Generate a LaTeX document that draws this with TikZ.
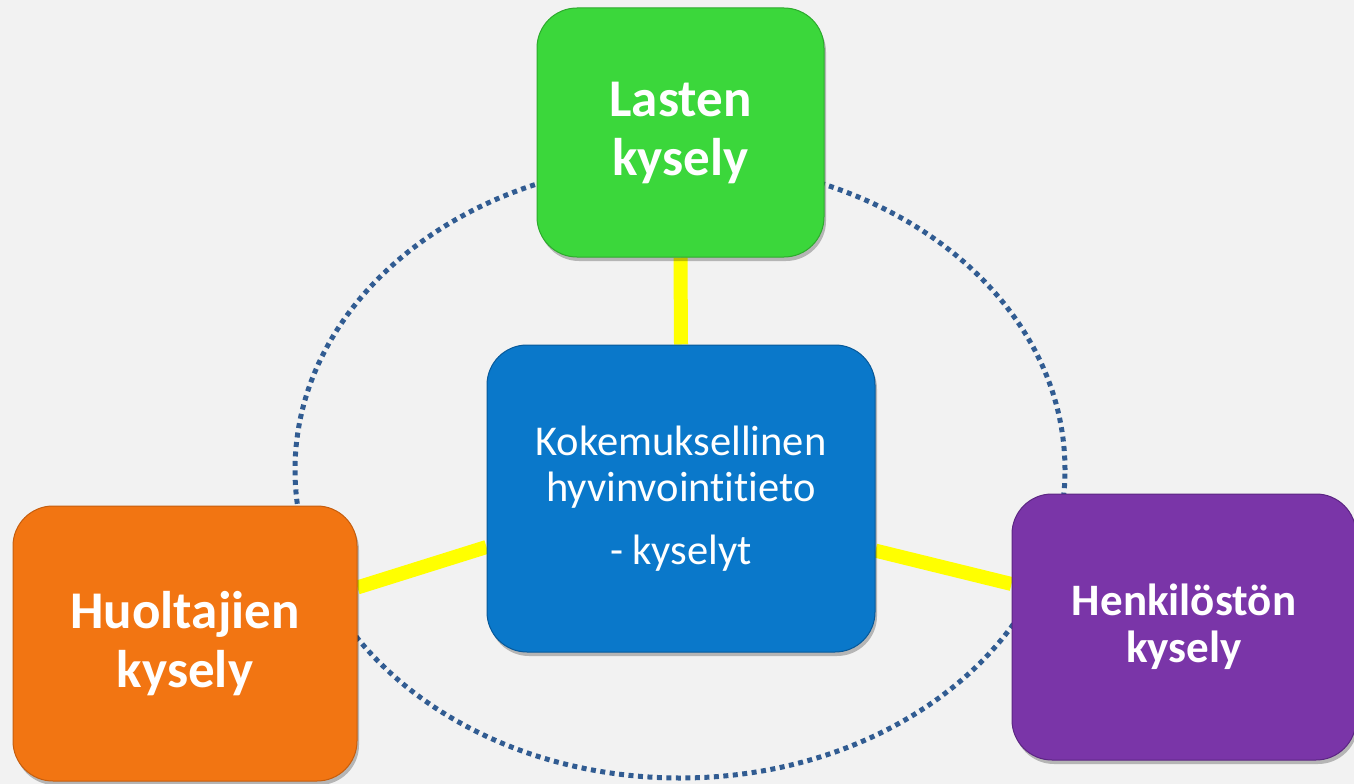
\documentclass[tikz,border=0pt]{standalone}
\usepackage{fontspec}
\setmainfont{Carlito}[Ligatures={NoCommon,NoContextual}]
\usetikzlibrary{shadows,backgrounds}
\definecolor{bgc}{HTML}{F2F2F2}
\definecolor{grn}{HTML}{3BD73B}
\definecolor{grnb}{HTML}{2DAA2D}
\definecolor{org}{HTML}{F27512}
\definecolor{orgb}{HTML}{C65E0E}
\definecolor{pur}{HTML}{7A35A8}
\definecolor{purb}{HTML}{5C2683}
\definecolor{blu}{HTML}{0A78CA}
\definecolor{blub}{HTML}{07599A}
\definecolor{dotc}{HTML}{315C92}
\definecolor{yel}{HTML}{FFFF00}
\tikzset{
  box/.style={rounded corners=40pt, inner sep=0pt, line width=1pt, align=center, text=white,
    drop shadow={shadow xshift=2pt, shadow yshift=-4pt, opacity=0.25, fill=black}},
  bigtxt/.style={font=\bfseries\fontsize{53}{59}\selectfont},
  link/.style={yel, line width=14pt},
  orbit/.style={dotc, line width=5pt, dash pattern=on 5pt off 4.5pt}
}
\begin{document}
\begin{tikzpicture}[x=1pt,y=-1pt]
\useasboundingbox (0,0) rectangle (1354,784);
\node[box, bigtxt, fill=grn, draw=grnb, minimum width=287pt, minimum height=249pt] (lasten) at (680.5,132.5) {Lasten\\kysely};
\node[box, fill=blu, draw=blub, minimum width=388pt, minimum height=307pt, font=\fontsize{42.5}{46}\selectfont] (center) at (681,498.5) {Kokemuksellinen\\hyvinvointitieto\\[17pt]- kyselyt};
\node[box, bigtxt, fill=org, draw=orgb, minimum width=344pt, minimum height=275pt] (huolt) at (185,643.5) {Huoltajien\\kysely};
\node[box, fill=pur, draw=purb, minimum width=344pt, minimum height=266pt, font=\bfseries\fontsize{45}{47}\selectfont] (henk) at (1184,627) {Henkilöstön\\kysely};
\begin{scope}[on background layer]
  \fill[bgc] (0,0) rectangle (1354,784);
  \draw[orbit] (680,470) ellipse [x radius=385pt, y radius=308pt];
  \draw[link] (lasten.south) -- (center.north);
  \draw[link] (huolt.18.6) -- (center.194.5);
  \draw[link] (center.345.5) -- (henk.166.2);
\end{scope}
\end{tikzpicture}
\end{document}
